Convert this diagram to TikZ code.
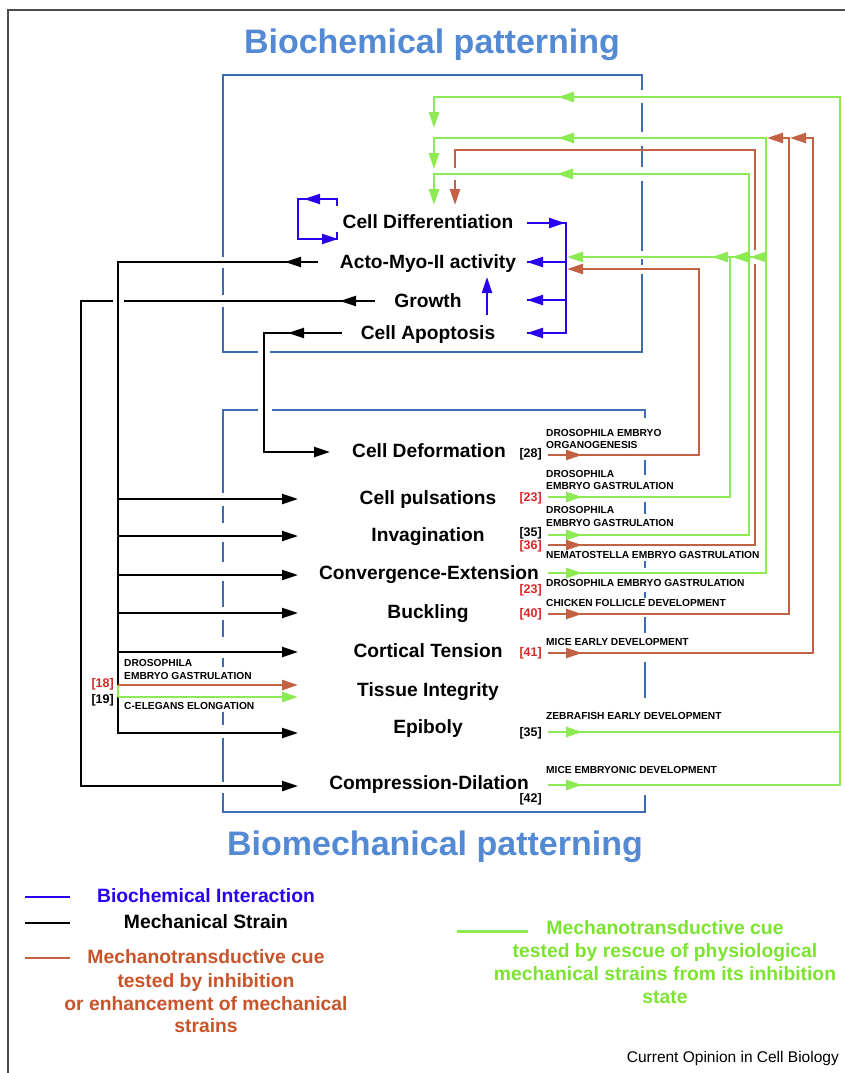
\documentclass[tikz,border=0pt]{standalone}
\usepackage{fontspec}
\setmainfont{Liberation Sans}
\usetikzlibrary{arrows.meta}
\definecolor{boxblue}{RGB}{62,108,178}
\definecolor{titleblue}{RGB}{84,138,212}
\definecolor{bcblue}{RGB}{42,0,238}
\definecolor{mtbrown}{RGB}{194,98,66}
\definecolor{mtbrowntext}{RGB}{200,84,42}
\definecolor{mtgreen}{RGB}{140,234,82}
\definecolor{mtgreentext}{RGB}{124,228,48}
\definecolor{refred}{RGB}{214,40,40}
\begin{document}
\begin{tikzpicture}[x=1pt,y=-1pt,
  proc/.style={font=\bfseries\fontsize{19.2}{22}\selectfont, anchor=mid, inner sep=0pt},
  ttl/.style={font=\bfseries\fontsize{34}{40}\selectfont, text=titleblue, anchor=base, inner sep=0pt},
  lab/.style={font=\bfseries\fontsize{10.2}{11}\selectfont, anchor=mid west, inner sep=0pt},
  refl/.style={font=\bfseries\fontsize{12.5}{14}\selectfont, anchor=mid east, inner sep=0pt},
  leg/.style={font=\bfseries\fontsize{19.3}{23}\selectfont, anchor=mid, inner sep=0pt},
  boxl/.style={draw=boxblue, line width=2.9pt},
  blk/.style={draw=black, line width=2.3pt},
  bcl/.style={draw=bcblue, line width=2.3pt},
  brl/.style={draw=mtbrown, line width=2.5pt},
  grl/.style={draw=mtgreen, line width=2.7pt},
  tip/.style={-{Triangle[length=16pt,width=10pt]}}
]
\useasboundingbox (0,0) rectangle (845,1073);
\fill[white] (0,0) rectangle (845,1073);
% frame
\draw[line width=1.4pt, black!70] (8,1073) -- (8,10) -- (845,10);

% titles
\node[ttl] (t1) at (432,53) {Biochemical patterning};
\node[ttl] (t2) at (435,855) {Biomechanical patterning};

% biochemical box
\draw[boxl] (223,257) -- (223,75) -- (642,75) -- (642,90);
\draw[boxl] (642,103) -- (642,132);
\draw[boxl] (642,146) -- (642,167);
\draw[boxl] (642,181) -- (642,251);
\draw[boxl] (642,259) -- (642,265);
\draw[boxl] (642,274) -- (642,352) -- (270,352);
\draw[boxl] (258,352) -- (223,352) -- (223,307);
\draw[boxl] (223,295) -- (223,268);

% biomechanical box
\draw[boxl] (223,493) -- (223,410) -- (258,410);
\draw[boxl] (272,410) -- (645,410) -- (645,418);
\foreach \a/\b in {460/475,502/514,561/568,592/598,617/633,662/698}
  \draw[boxl] (645,\a) -- (645,\b);
\draw[boxl] (645,795) -- (645,812) -- (223,812) -- (223,793);
\foreach \a/\b in {506/523,542/562,581/607,620/637,658/667,712/725,738/782}
  \draw[boxl] (223,\a) -- (223,\b);

% process nodes
\node[proc] (diff) at (428,226) {Cell Differentiation};
\node[proc] (acto) at (428,266) {Acto-Myo-II activity};
\node[proc] (growth) at (428,305) {Growth};
\node[proc] (apop) at (428,337) {Cell Apoptosis};
\node[proc] (deform) at (429,455) {Cell Deformation};
\node[proc] (puls) at (428,502) {Cell pulsations};
\node[proc] (invag) at (428,539) {Invagination};
\node[proc] (conv) at (429,577) {Convergence-Extension};
\node[proc] (buck) at (428,616) {Buckling};
\node[proc] (cort) at (428,655) {Cortical Tension};
\node[proc] (tiss) at (428,694) {Tissue Integrity};
\node[proc] (epib) at (428,731) {Epiboly};
\node[proc] (comp) at (429,787) {Compression-Dilation};

% blue biochemical interactions
\draw[bcl] (337,206) -- (337,199) -- (298,199) -- (298,239) -- (337,239) -- (337,232);
\draw[bcl,tip] (322,199) -- (304,199);
\draw[bcl,tip] (320,239) -- (338,239);
\draw[bcl] (527,223) -- (566,223) -- (566,333) -- (527,333);
\draw[bcl] (566,262) -- (527,262);
\draw[bcl] (566,300) -- (527,300);
\draw[bcl,tip] (548,223) -- (565,223);
\draw[bcl,tip] (545,262) -- (527,262);
\draw[bcl,tip] (545,300) -- (527,300);
\draw[bcl,tip] (545,333) -- (527,333);
\draw[bcl,tip] (487,315) -- (487,277);

% black mechanical strain
\draw[blk] (318,262) -- (118,262) -- (118,686);
\draw[blk,tip] (303,262) -- (285,262);
\foreach \y in {499,536,575,613,652}
  \draw[blk,tip] (118,\y) -- (298,\y);
\draw[blk,tip] (118,696) -- (118,733) -- (298,733);
\draw[blk] (375,301) -- (124,301);
\draw[blk,tip] (356,301) -- (340,301);
\draw[blk,tip] (113,301) -- (81,301) -- (81,786) -- (298,786);
\draw[blk,tip] (342,333) -- (264,333) -- (264,452) -- (330,452);
\draw[blk,tip] (305,333) -- (288,333);

% tissue integrity cues
\draw[grl] (118,685) -- (118,697);
\draw[brl,tip] (118,685) -- (298,685);
\draw[grl,tip] (118,697) -- (298,697);

% right side mechanotransductive cues
% Cell deformation -> Acto (brown)
\draw[brl,tip] (548,455) -- (699,455) -- (699,269) -- (567,269);
\draw[brl,tip] (565,455) -- (582,455);
% Cell pulsations (green)
\draw[grl] (548,497) -- (730,497) -- (730,257);
\draw[grl,tip] (565,497) -- (582,497);
% Invagination green
\draw[grl,tip] (548,535) -- (749,535) -- (749,174) -- (434,174) -- (434,205);
\draw[grl,tip] (565,535) -- (582,535);
% Invagination brown
\draw[brl] (548,545) -- (755,545) -- (755,264);
\draw[brl] (755,250) -- (755,150) -- (455,150) -- (455,168);
\draw[brl,tip] (455,180) -- (455,205);
\draw[brl,tip] (565,545) -- (582,545);
% Convergence-Extension green
\draw[grl,tip] (548,573) -- (766,573) -- (766,138) -- (434,138) -- (434,169);
\draw[grl,tip] (565,573) -- (582,573);
% horizontal into Acto
\draw[grl,tip] (766,257) -- (567,257);
\draw[grl,tip] (766,257) -- (750,257);
\draw[grl,tip] (749,257) -- (732,257);
\draw[grl,tip] (730,257) -- (712,257);
% Buckling brown
\draw[brl,tip] (548,614) -- (789,614) -- (789,138) -- (767,138);
\draw[brl,tip] (565,614) -- (582,614);
% Cortical tension brown
\draw[brl,tip] (548,653) -- (813,653) -- (813,138) -- (790,138);
\draw[brl,tip] (565,653) -- (582,653);
% Epiboly and Compression green
\draw[grl] (548,732) -- (840,732);
\draw[grl,tip] (565,732) -- (582,732);
\draw[grl,tip] (548,785) -- (840,785) -- (840,97) -- (434,97) -- (434,128);
\draw[grl,tip] (565,785) -- (582,785);
% mid arrows on top horizontals
\draw[grl,tip] (574,97) -- (558,97);
\draw[grl,tip] (574,138) -- (558,138);
\draw[grl,tip] (573,174) -- (557,174);

% small labels right
\node[lab] (l1) at (546,434) {DROSOPHILA EMBRYO};
\node[lab] (l2) at (546,446) {ORGANOGENESIS};
\node[lab] (l3) at (546,475) {DROSOPHILA};
\node[lab] (l4) at (546,487) {EMBRYO GASTRULATION};
\node[lab] (l5) at (546,511) {DROSOPHILA};
\node[lab] (l6) at (546,524) {EMBRYO GASTRULATION};
\node[lab] (l7) at (546,556) {NEMATOSTELLA EMBRYO GASTRULATION};
\node[lab] (l8) at (546,584) {DROSOPHILA EMBRYO GASTRULATION};
\node[lab] (l9) at (546,604) {CHICKEN FOLLICLE DEVELOPMENT};
\node[lab] (l10) at (546,643) {MICE EARLY DEVELOPMENT};
\node[lab] (l11) at (546,717) {ZEBRAFISH EARLY DEVELOPMENT};
\node[lab] (l12) at (546,771) {MICE EMBRYONIC DEVELOPMENT};
% small labels left
\node[lab] (l13) at (124,664) {DROSOPHILA};
\node[lab] (l14) at (124,677) {EMBRYO GASTRULATION};
\node[lab] (l15) at (124,707) {C-ELEGANS ELONGATION};

% references
\node[refl] (r28) at (542,455) {[28]};
\node[refl,text=refred] (r23a) at (542,499) {[23]};
\node[refl] (r35a) at (542,534) {[35]};
\node[refl,text=refred] (r36) at (542,547) {[36]};
\node[refl,text=refred] (r23b) at (542,591) {[23]};
\node[refl,text=refred] (r40) at (542,615) {[40]};
\node[refl,text=refred] (r41) at (542,654) {[41]};
\node[refl] (r35b) at (542,734) {[35]};
\node[refl] (r42) at (542,800) {[42]};
\node[refl,text=refred] (r18) at (114,685) {[18]};
\node[refl] (r19) at (114,701) {[19]};

% legend
\draw[bcl, line width=2.8pt] (25,897) -- (70,897);
\draw[blk, line width=2.8pt] (25,923) -- (70,923);
\draw[brl, line width=2.8pt] (25,958) -- (70,958);
\draw[grl, line width=3pt] (457,931) -- (528,931);
\node[leg,text=bcblue] (k1) at (206,900) {Biochemical Interaction};
\node[leg] (k2) at (206,926) {Mechanical Strain};
\node[leg,text=mtbrowntext] (k3) at (206,961) {Mechanotransductive cue};
\node[leg,text=mtbrowntext] (k4) at (206,985) {tested by inhibition};
\node[leg,text=mtbrowntext] (k5) at (206,1008) {or enhancement of mechanical};
\node[leg,text=mtbrowntext] (k6) at (206,1030) {strains};
\node[leg,text=mtgreentext] (k7) at (665,932) {Mechanotransductive cue};
\node[leg,text=mtgreentext] (k8) at (665,955) {tested by rescue of physiological};
\node[leg,text=mtgreentext] (k9) at (665,978) {mechanical strains from its inhibition};
\node[leg,text=mtgreentext] (k10) at (665,1001) {state};
\node[font=\fontsize{15.5}{18}\selectfont, anchor=mid east, inner sep=0pt] (src) at (839,1060) {Current Opinion in Cell Biology};
\end{tikzpicture}
\end{document}
